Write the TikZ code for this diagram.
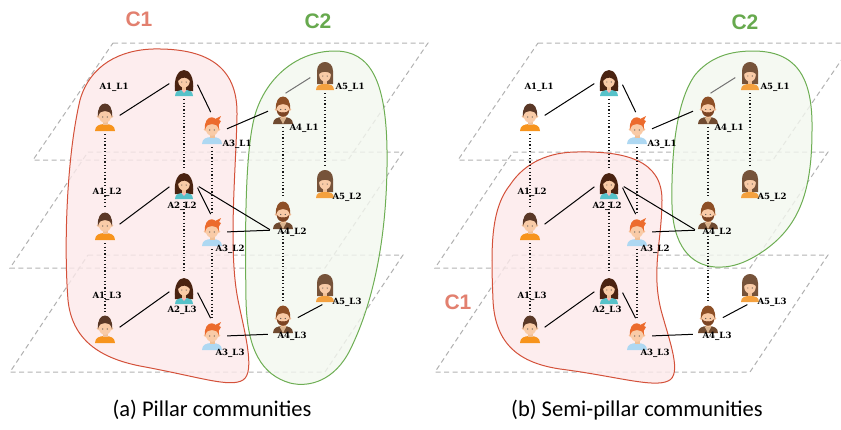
\documentclass[tikz,border=0pt]{standalone}
\usepackage{fontspec}
\setmainfont{DejaVu Serif}
\setsansfont{Carlito}
\newfontfamily\headfont{Liberation Sans}
\usetikzlibrary{positioning,calc}

\definecolor{skin}{HTML}{F9CBA7}
\definecolor{hairA}{HTML}{5A3827}
\definecolor{shirtA}{HTML}{F7941D}
\definecolor{hairB}{HTML}{4A2311}
\definecolor{shirtB}{HTML}{56C2C9}
\definecolor{hairC}{HTML}{EC6B2D}
\definecolor{shirtC}{HTML}{AED8F2}
\definecolor{hairD}{HTML}{8E5027}
\definecolor{beardD}{HTML}{7C4524}
\definecolor{jacketD}{HTML}{6F4A30}
\definecolor{innerD}{HTML}{D9B48F}
\definecolor{hairE}{HTML}{76533A}
\definecolor{shirtE}{HTML}{F4A13F}
\definecolor{redline}{HTML}{D4513A}
\definecolor{redfill}{HTML}{FCE9EA}
\definecolor{greenline}{HTML}{6DAE53}
\definecolor{greenfill}{HTML}{F3F7EF}
\definecolor{cred}{HTML}{E2806F}
\definecolor{cgreen}{HTML}{67A94E}

% little people, drawn with y pointing down
\tikzset{
  agent1/.pic={
    \fill[shirtA] (-10,14) .. controls (-10,9) and (-6,7) .. (0,7) .. controls (6,7) and (10,9) .. (10,14) -- cycle;
    \fill[skin!85!brown] (-2.5,3) rectangle (2.5,8);
    \fill[skin] (-6.6,-0.5) circle (1.8) (6.6,-0.5) circle (1.8);
    \fill[skin] (0,-1) ellipse (6.2 and 6.8);
    \fill[hairA] (-7,0) .. controls (-9,-18) and (9,-18) .. (7,0) .. controls (6,-5) and (3,-6) .. (0,-6) .. controls (-3,-6) and (-6,-5) .. (-7,0) -- cycle;
    \fill[black!70] (-2.3,0) circle (0.6) (2.3,0) circle (0.6);
  },
  agent2/.pic={
    \fill[hairB] (-9,9) .. controls (-12,-19) and (12,-19) .. (9,9) -- cycle;
    \fill[shirtB] (-9,14) .. controls (-9,9) and (-5,8) .. (0,8) .. controls (5,8) and (9,9) .. (9,14) -- cycle;
    \fill[pink!70!red!60] (-2.5,8) -- (2.5,8) -- (0,11) -- cycle;
    \fill[skin!85!brown] (-2.2,3) rectangle (2.2,8);
    \fill[skin] (0,-1) ellipse (5.8 and 6.6);
    \fill[hairB] (-6.2,-1) .. controls (-7,-13) and (7,-13) .. (6.2,-1) .. controls (3,-5) and (-2,-6) .. (-6.2,-1) -- cycle;
    \fill[black!70] (-2.2,0) circle (0.55) (2.2,0) circle (0.55);
  },
  agent3/.pic={
    \fill[shirtC] (-10,14) .. controls (-10,9) and (-6,7) .. (0,7) .. controls (6,7) and (10,9) .. (10,14) -- cycle;
    \fill[skin!85!brown] (-2.5,3) rectangle (2.5,8);
    \fill[skin] (-6.6,-0.5) circle (1.8) (6.6,-0.5) circle (1.8);
    \fill[skin] (0,-1) ellipse (6.2 and 6.8);
    \fill[hairC] (-7,0) .. controls (-9,-17) and (8,-17) .. (7,0) .. controls (6,-5) and (3,-6) .. (0,-6) .. controls (-3,-6) and (-6,-5) .. (-7,0) -- cycle;
    \fill[hairC] (1,-10) -- (9,-14) -- (7,-10) -- (9,-9) -- (6,-4) -- cycle;
    \fill[black!70] (-2.3,0) circle (0.6) (2.3,0) circle (0.6);
  },
  agent4/.pic={
    \fill[jacketD] (-10,14) .. controls (-10,9) and (-6,7) .. (0,7) .. controls (6,7) and (10,9) .. (10,14) -- cycle;
    \fill[innerD] (-3.5,7.4) -- (3.5,7.4) -- (0,14) -- cycle;
    \fill[skin!85!brown] (-2.5,3) rectangle (2.5,8);
    \fill[skin] (-6.6,-0.5) circle (1.8) (6.6,-0.5) circle (1.8);
    \fill[skin] (0,-1) ellipse (6.2 and 6.8);
    \fill[beardD] (-6.2,0) .. controls (-6,9) and (6,9) .. (6.2,0) .. controls (4,3.5) and (-4,3.5) .. (-6.2,0) -- cycle;
    \fill[beardD] (-2.5,3.2) .. controls (-1,2) and (1,2) .. (2.5,3.2) .. controls (1,3.6) and (-1,3.6) .. (-2.5,3.2) -- cycle;
    \fill[hairD] (-7,0) .. controls (-9,-18) and (9,-18) .. (7,0) .. controls (6,-5) and (3,-6) .. (0,-6) .. controls (-3,-6) and (-6,-5) .. (-7,0) -- cycle;
    \fill[black!70] (-2.3,-0.5) circle (0.6) (2.3,-0.5) circle (0.6);
  },
  agent5/.pic={
    \fill[hairE] (-8,8) -- (-8,-5) .. controls (-8,-17) and (8,-17) .. (8,-5) -- (8,8) -- cycle;
    \fill[shirtE] (-9,14) .. controls (-9,9) and (-5,8) .. (0,8) .. controls (5,8) and (9,9) .. (9,14) -- cycle;
    \fill[skin!85!brown] (-2.2,3) rectangle (2.2,8);
    \fill[skin] (0,-1) ellipse (5.8 and 6.6);
    \fill[hairE] (-6.2,-2) -- (-6.2,-6) .. controls (-5,-10) and (5,-10) .. (6.2,-6) -- (6.2,-2) .. controls (3,-5) and (-3,-5) .. (-6.2,-2) -- cycle;
    \fill[black!70] (-2.2,0) circle (0.55) (2.2,0) circle (0.55);
  }
}

\begin{document}
\begin{tikzpicture}[x=1pt, y=-1pt,
  agent/.style={inner sep=0pt, minimum width=24pt, minimum height=30pt},
  tag/.style={font=\bfseries\fontsize{8.6}{8.6}\selectfont, inner sep=0pt},
  tie/.style={draw=black, line width=1pt, shorten <=3pt, shorten >=3pt},
  pillar/.style={draw=black!90, line width=1.1pt, dash pattern=on 1.1pt off 2.3pt, shorten <=2pt, shorten >=2pt},
  layer/.style={draw=black!30, line width=1pt, dash pattern=on 5pt off 3.5pt},
  redblob/.style={draw=redline, line width=1pt, fill=redfill, fill opacity=0.8},
  greenblob/.style={draw=greenline, line width=1pt, fill=greenfill, fill opacity=0.8},
  cname/.style={font=\headfont\bfseries\fontsize{21}{21}\selectfont}]
\useasboundingbox (0,0) rectangle (841,429);

% the three layers of each panel
\foreach \dx in {0,425} {
  \begin{scope}[xshift=\dx]
    \draw[layer] (113,43) -- (428,43) -- (348,160) -- (33,160) -- cycle;
    \draw[layer] (88,152) -- (403,152) -- (325,268) -- (10,268) -- cycle;
    \draw[layer] (88,255) -- (403,255) -- (325,372) -- (10,372) -- cycle;
  \end{scope}
}

% (a) pillar communities
\draw[redblob] (153,49) .. controls (205,48) and (238,65) .. (237,115)
  .. controls (236,170) and (228,250) .. (238,300)
  .. controls (244,330) and (256,372) .. (243,380)
  .. controls (230,388) and (200,377) .. (140,366)
  .. controls (100,358) and (72,340) .. (68,300)
  .. controls (64,250) and (66,160) .. (80,100)
  .. controls (90,65) and (120,50) .. (153,49) -- cycle;
\draw[greenblob] (335,51) .. controls (370,51) and (386,80) .. (387,150)
  .. controls (388,230) and (375,300) .. (350,350)
  .. controls (335,380) and (310,388) .. (290,383)
  .. controls (262,375) and (247,350) .. (246,300)
  .. controls (245,230) and (245,150) .. (255,115)
  .. controls (265,80) and (295,51) .. (335,51) -- cycle;
\node[cname, text=cred] (c1a) at (139,19) {C1};
\node[cname, text=cgreen] (c2a) at (318,21) {C2};

% (b) semi-pillar communities
\begin{scope}[xshift=425]
\draw[greenblob] (328,51) .. controls (370,51) and (388,75) .. (387,130)
  .. controls (387,190) and (375,225) .. (340,250)
  .. controls (320,264) and (305,268) .. (290,267)
  .. controls (265,265) and (248,245) .. (247,205)
  .. controls (246,150) and (252,100) .. (270,75)
  .. controls (285,57) and (305,51) .. (328,51) -- cycle;
\draw[redblob] (152,152) .. controls (200,151) and (237,160) .. (237,200)
  .. controls (237,240) and (226,270) .. (236,310)
  .. controls (244,340) and (258,375) .. (243,381)
  .. controls (228,388) and (190,376) .. (135,369)
  .. controls (95,363) and (70,345) .. (68,300)
  .. controls (66,250) and (65,210) .. (85,185)
  .. controls (100,162) and (125,152) .. (152,152) -- cycle;
\node[cname, text=cgreen] (c2b) at (320,22) {C2};
\node[cname, text=cred] (c1b) at (33,302) {C1};
\end{scope}

% people and their links, same in both panels
\foreach \p/\dx in {a/0,b/425} {
  \begin{scope}[xshift=\dx]
    \foreach \n/\x/\ya/\yb/\yc in {1/105/117/226/329, 2/184/82/185/290, 3/212/130/232/336, 4/283/110/215/319, 5/325/76/184/288} {
      \node[agent] (\p\n l1) at (\x,\ya) {};
      \node[agent] (\p\n l2) at (\x,\yb) {};
      \node[agent] (\p\n l3) at (\x,\yc) {};
    }
    % same person across layers
    \foreach \n in {1,2,3,4} {
      \draw[pillar] (\p\n l1.south) -- (\p\n l2.north);
      \draw[pillar] (\p\n l2.south) -- (\p\n l3.north);
    }
    \draw[pillar] (\p5l1.south) -- (\p5l2.north);
    % ties inside each layer
    \draw[tie] (\p1l1.east) -- (\p2l1.west);
    \draw[tie] (\p2l1.east) -- (\p3l1.north);
    \draw[tie] (\p3l1.east) -- (\p4l1.west);
    \draw[tie, draw=black!55] (\p4l1.north) -- (\p5l1.west);
    \draw[tie] (\p1l2.east) -- (\p2l2.west);
    \draw[tie] (\p2l2.east) -- (\p3l2.north);
    \draw[tie, shorten >=1pt] (\p2l2.east) -- (\p4l2.south west);
    \draw[tie, shorten >=1pt] (\p3l2.east) -- (\p4l2.south west);
    \draw[tie] (\p1l3.east) -- (\p2l3.west);
    \draw[tie] (\p2l3.east) -- (\p3l3.north);
    \draw[tie] (\p3l3.east) -- (\p4l3.south west);
    \draw[tie] (\p4l3.east) -- (\p5l3.south);
    \foreach \n in {1,...,5} {
      \foreach \k in {1,2,3} {
        \pic at (\p\n l\k) {agent\n};
      }
    }
    % names
    \node[tag] (\p t11) at (114,87) {A1\_L1};
    \node[tag] (\p t12) at (107,192) {A1\_L2};
    \node[tag] (\p t13) at (107,296) {A1\_L3};
    \node[tag] (\p t22) at (182,206) {A2\_L2};
    \node[tag] (\p t23) at (182,310) {A2\_L3};
    \node[tag] (\p t31) at (237,144) {A3\_L1};
    \node[tag] (\p t32) at (230,249) {A3\_L2};
    \node[tag] (\p t33) at (230,353) {A3\_L3};
    \node[tag] (\p t41) at (304,128) {A4\_L1};
    \node[tag] (\p t42) at (292,232) {A4\_L2};
    \node[tag] (\p t43) at (292,336) {A4\_L3};
    \node[tag] (\p t51) at (350,87) {A5\_L1};
    \node[tag] (\p t52) at (347,197) {A5\_L2};
    \node[tag] (\p t53) at (347,302) {A5\_L3};
  \end{scope}
}

\node[font=\sffamily\fontsize{22.5}{22.5}\selectfont] (capa) at (212,410) {(a) Pillar communities};
\node[font=\sffamily\fontsize{22.5}{22.5}\selectfont] (capb) at (637,410) {(b) Semi-pillar communities};
\end{tikzpicture}
\end{document}
